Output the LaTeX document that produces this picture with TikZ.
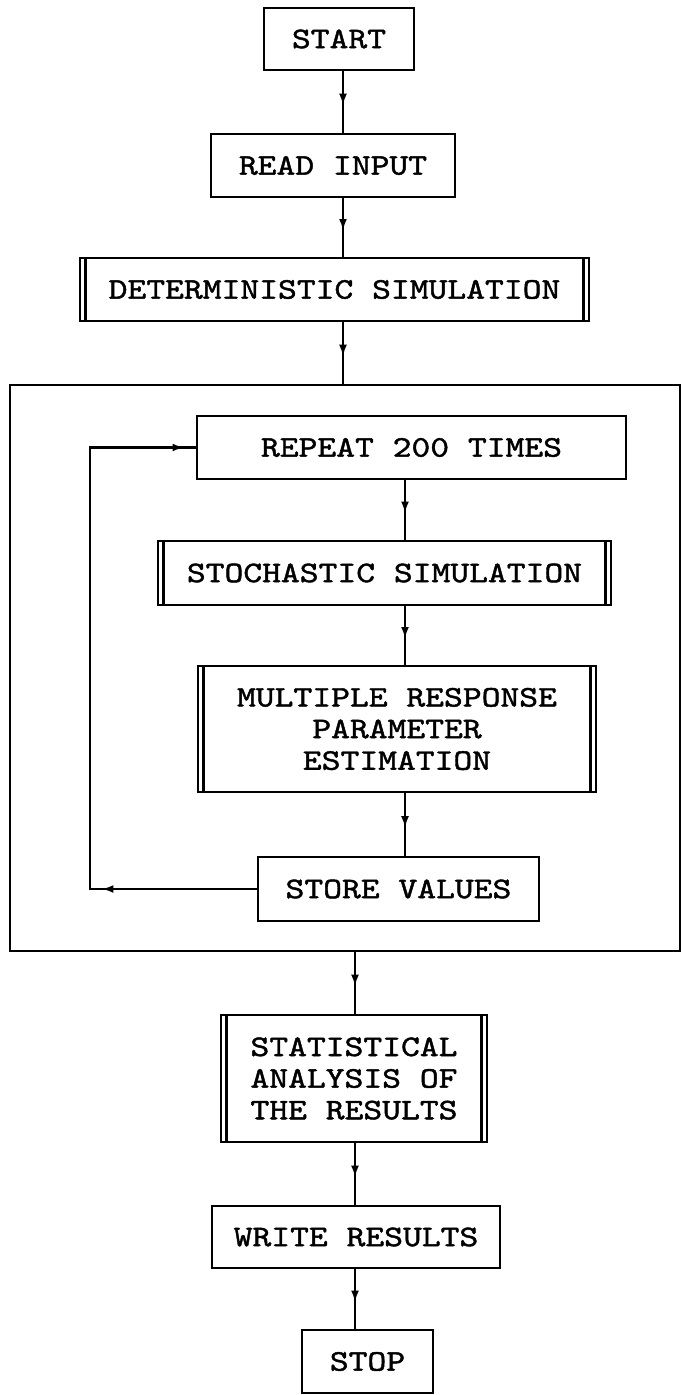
\documentclass[tikz,border=0pt]{standalone}
\usepackage{fontspec}
\usetikzlibrary{arrows.meta,decorations.markings}
\newfontfamily\chartfont{lmmono10-regular.otf}[FakeStretch=1.2,FakeBold=1.5]

\begin{document}
\begin{tikzpicture}[x=0.02cm, y=-0.02cm, line width=1.2pt,
	proc/.style={draw, rectangle, inner sep=0pt, align=center, font=\chartfont\fontsize{17}{18}\selectfont},
	subproc/.style={proc, path picture={
		\draw ([xshift=0.11cm]path picture bounding box.north west) -- ([xshift=0.11cm]path picture bounding box.south west)
			([xshift=-0.11cm]path picture bounding box.north east) -- ([xshift=-0.11cm]path picture bounding box.south east);}},
	flow/.style={postaction={decorate}, decoration={markings,
		mark=at position 0.55 with {\arrow{Latex[length=6.5pt,width=4.5pt]}}}},
	backflow/.style={postaction={decorate}, decoration={markings,
		mark=at position 3.1cm with {\arrow{Latex[length=6.5pt,width=4.5pt]}},
		mark=at position -0.24cm with {\arrow{Latex[length=6.5pt,width=4.5pt]}}}}]
	\useasboundingbox (0,0) rectangle (682,1395);
	\coordinate (colA) at (343,0);
	\coordinate (colB) at (405,0);
	\coordinate (colC) at (355,0);
	\coordinate (back) at (90,0);
	\node[proc, minimum width=3cm, minimum height=1.24cm] (start) at (339,39) {START};
	\node[proc, minimum width=4.88cm, minimum height=1.26cm] (read) at (333,165.5) {READ INPUT};
	\node[subproc, minimum width=10.18cm, minimum height=1.26cm] (det) at (334.5,289.5) {DETERMINISTIC SIMULATION};
	\node[draw, minimum width=13.4cm, minimum height=11.32cm] (loopbox) at (345,668) {};
	\node[proc, minimum width=8.58cm, minimum height=1.26cm] (repeat) at (411.5,447.5) {REPEAT 200 TIMES};
	\node[subproc, minimum width=9.06cm, minimum height=1.28cm] (stoch) at (384.5,573) {STOCHASTIC SIMULATION};
	\node[subproc, minimum width=7.96cm, minimum height=2.52cm] (multi) at (397,729) {MULTIPLE RESPONSE\\PARAMETER\\ESTIMATION};
	\node[proc, minimum width=5.62cm, minimum height=1.28cm] (store) at (398.5,889) {STORE VALUES};
	\node[subproc, minimum width=5.32cm, minimum height=2.54cm] (stat) at (354,1078.5) {STATISTICAL\\ANALYSIS OF\\THE RESULTS};
	\node[proc, minimum width=5.76cm, minimum height=1.24cm] (write) at (356,1237) {WRITE RESULTS};
	\node[proc, minimum width=2.62cm, minimum height=1.26cm] (stop) at (367.5,1361.5) {STOP};
	\foreach \a/\b/\c in {start/read/colA, read/det/colA, det/loopbox/colA,
		repeat/stoch/colB, stoch/multi/colB, multi/store/colB,
		loopbox/stat/colC, stat/write/colC, write/stop/colC}
		\draw[flow] (\a.south -| \c) -- (\b.north -| \c);
	\draw[backflow] (store.west) -- (store.west -| back) |- (repeat.west);
\end{tikzpicture}
\end{document}
